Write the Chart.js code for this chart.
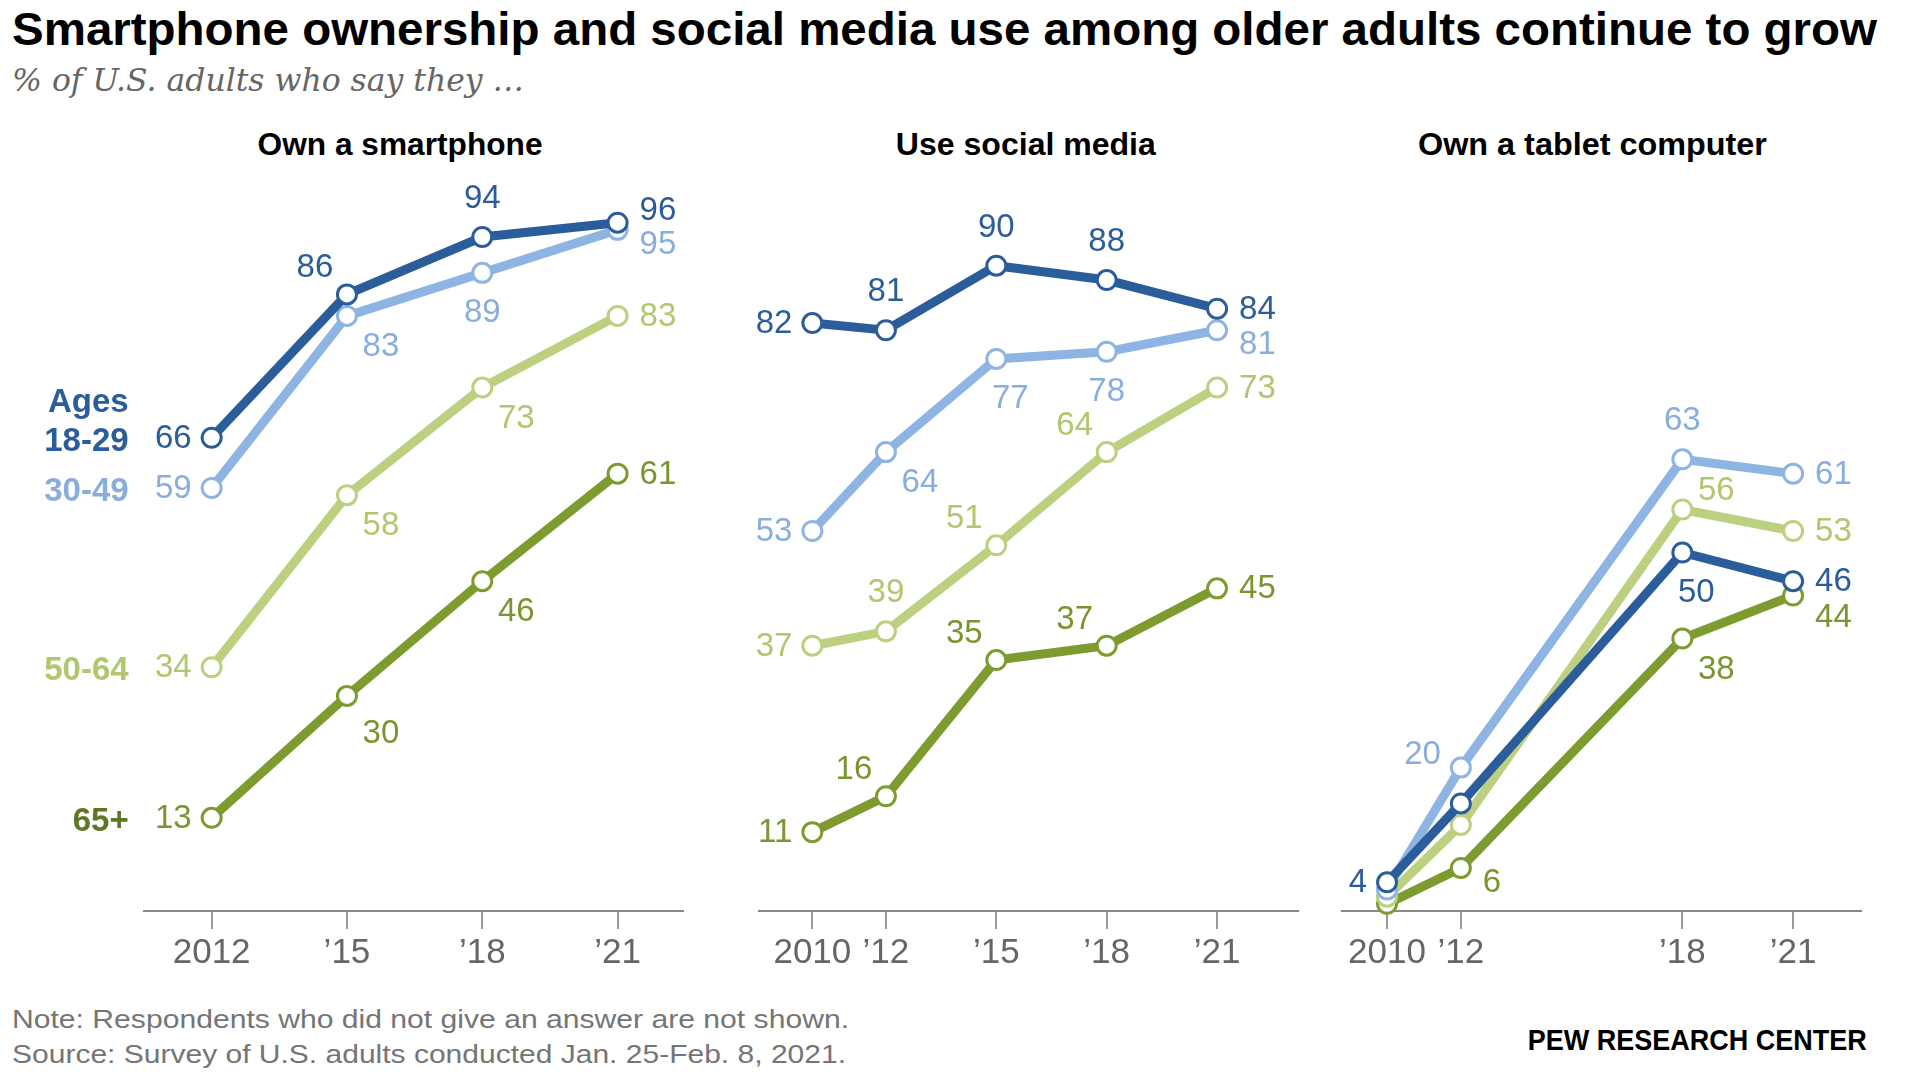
<!DOCTYPE html>
<html>
<head>
<meta charset="utf-8">
<script src="https://cdn.jsdelivr.net/npm/chart.js@4.4.1/dist/chart.umd.min.js"></script>
<style>
  html, body { margin:0; padding:0; background:#fff; }
  body { width:1920px; height:1080px; position:relative; overflow:hidden; font-family:"Liberation Sans", Arial, sans-serif; }
  .t { position:absolute; white-space:nowrap; line-height:1; display:inline-block; }
  canvas { position:absolute; }
</style>
</head>
<body>
<div class="t" id="title" style="left:12px; top:6px; font-size:46px; font-weight:bold; color:#000;">Smartphone ownership and social media use among older adults continue to grow</div>
<div class="t" id="subtitle" style="left:12px; top:65px; font-size:31px; font-style:italic; font-family:'DejaVu Serif', Georgia, serif; color:#666;">% of U.S. adults who say they …</div>
<div class="t" id="p1t" style="top:128px; font-size:32px; font-weight:bold; color:#000;">Own a smartphone</div>
<div class="t" id="p2t" style="top:128px; font-size:32px; font-weight:bold; color:#000;">Use social media</div>
<div class="t" id="p3t" style="top:128px; font-size:32px; font-weight:bold; color:#000;">Own a tablet computer</div>
<div class="t" id="note" style="left:12px; top:1007px; font-size:25px; color:#757575;">Note: Respondents who did not give an answer are not shown.</div>
<div class="t" id="source" style="left:12px; top:1042px; font-size:25px; color:#757575;">Source: Survey of U.S. adults conducted Jan. 25-Feb. 8, 2021.</div>
<div class="t" id="pew" style="top:1025px; font-size:30px; font-weight:bold; color:#000;">PEW RESEARCH CENTER</div>

<canvas id="c1" width="720" height="811" style="left:0px; top:170px;"></canvas>
<canvas id="c2" width="600" height="811" style="left:720px; top:170px;"></canvas>
<canvas id="c3" width="600" height="811" style="left:1320px; top:170px;"></canvas>

<script>
// ---------- DATA ----------
const ageGroups = ['18-29', '30-49', '50-64', '65+'];

const smartphoneYears = [2012, 2015, 2018, 2021];
const smartphone1829 = [66, 86, 94, 96];
const smartphone3049 = [59, 83, 89, 95];
const smartphone5064 = [34, 58, 73, 83];
const smartphone65   = [13, 30, 46, 61];

const socialYears = [2010, 2012, 2015, 2018, 2021];
const social1829 = [82, 81, 90, 88, 84];
const social3049 = [53, 64, 77, 78, 81];
const social5064 = [37, 39, 51, 64, 73];
const social65   = [11, 16, 35, 37, 45];

const tabletYears = [2010, 2012, 2018, 2021];
const tablet1829 = [4, 15, 50, 46];
const tablet3049 = [3, 20, 63, 61];
const tablet5064 = [2, 12, 56, 53];
const tablet65   = [1, 6, 38, 44];

// ---------- STYLE ----------
const lineColors  = ['#2b5d9a', '#8db4e2', '#bdd07f', '#7d9b2f'];
const labelColors = ['#2b5d9a', '#8aaedb', '#b2c66f', '#7a9530'];
const groupLabelColors = ['#2b5d9a', '#8aaedb', '#b2c66f', '#5f7626'];

// label placement codes (positions, kept apart from values; 'n' = no label)
const place1 = [['l','al','a','ra'], ['l','br','b','rb'], ['l','br','br','r'], ['l','br2','br','r']];
const place2 = [['l','a','a','a','r'], ['l','br','bb','b','rb'], ['l','a','al','al','r'], ['l','al','al','al','r']];
const place3 = [['l','n','bb','r'], ['n','la','a','r'], ['n','n','ar','r'], ['n','rb','br','rbb']];

const OFF = {
  l:   [-20, 0, 'right'],
  r:   [22, 0, 'left'],
  ra:  [22, -13, 'left'],
  rb:  [22, 14, 'left'],
  rbb: [22, 21, 'left'],
  la:  [-20, -14, 'right'],
  a:   [0, -39, 'center'],
  b:   [0, 39, 'center'],
  al:  [-32, -27, 'center'],
  ar:  [34, -20, 'center'],
  br:  [34, 30, 'center'],
  br2: [34, 37, 'center'],
  bb:  [14, 39, 'center']
};

const FONT = '"Liberation Sans", Arial, sans-serif';

function mkDatasets(years, series) {
  return series.map((vals, i) => ({
    label: ageGroups[i],
    data: years.map((y, j) => ({ x: y, y: vals[j] })),
    borderColor: lineColors[i],
    borderWidth: 9,
    pointRadius: 9.5,
    pointHoverRadius: 9.5,
    pointBorderWidth: 3,
    pointBackgroundColor: '#fff',
    pointBorderColor: lineColors[i],
    tension: 0,
    clip: false,
    order: i
  }));
}

function labelPlugin(placements, showGroups) {
  return {
    id: 'labels',
    afterDatasetsDraw(chart) {
      const ctx = chart.ctx;
      const xs = chart.scales.x, ys = chart.scales.y;
      ctx.save();
      ctx.textBaseline = 'middle';
      chart.data.datasets.forEach((ds, i) => {
        ds.data.forEach((pt, j) => {
          const code = placements[i][j];
          if (code === 'n') return;
          const o = OFF[code];
          const px = xs.getPixelForValue(pt.x), py = ys.getPixelForValue(pt.y);
          ctx.font = '33px ' + FONT;
          ctx.fillStyle = labelColors[i];
          ctx.textAlign = o[2];
          ctx.fillText(String(pt.y), px + o[0], py + o[1] + 1);
        });
        if (showGroups) {
          const p0 = ds.data[0];
          const px = xs.getPixelForValue(p0.x) - 83;
          const py = ys.getPixelForValue(p0.y) + 4;
          ctx.font = 'bold 33px ' + FONT;
          ctx.fillStyle = groupLabelColors[i];
          ctx.textAlign = 'right';
          ctx.fillText(ds.label, px, py);
          if (i === 0) ctx.fillText('Ages', px, py - 39);
        }
      });
      ctx.restore();
    }
  };
}

function mkChart(id, years, series, xmin, xmax, pad, placements, showGroups) {
  return new Chart(document.getElementById(id), {
    type: 'line',
    data: { datasets: mkDatasets(years, series) },
    options: {
      responsive: false,
      animation: false,
      devicePixelRatio: 1,
      layout: { padding: { left: pad[0], right: pad[1], top: 24, bottom: 0 } },
      plugins: { legend: { display: false }, tooltip: { enabled: false } },
      scales: {
        x: {
          type: 'linear',
          min: xmin, max: xmax,
          afterBuildTicks: (s) => { s.ticks = years.map(v => ({ value: v })); },
          afterFit: (s) => { s.height = 70; },
          ticks: {
            autoSkip: false,
            maxRotation: 0,
            padding: 3,
            color: '#666',
            font: { family: FONT, size: 35 },
            callback: (v, i) => i === 0 ? String(v) : '\u2019' + String(v).slice(2)
          },
          grid: { drawOnChartArea: false, drawTicks: true, tickLength: 18, color: '#999', lineWidth: 2 },
          border: { display: true, color: '#888', width: 2 }
        },
        y: { display: false, min: 0, max: 100 }
      }
    },
    plugins: [labelPlugin(placements, showGroups)]
  });
}

mkChart('c1', smartphoneYears, [smartphone1829, smartphone3049, smartphone5064, smartphone65], 2010.5, 2022.45, [144, 37], place1, true);
mkChart('c2', socialYears, [social1829, social3049, social5064, social65], 2008.55, 2023.2, [39, 22], place2, false);
mkChart('c3', tabletYears, [tablet1829, tablet3049, tablet5064, tablet65], 2008.78, 2022.84, [22, 59], place3, false);

// ---------- text fitting ----------
function fit(id, width, anchor, x) {
  const el = document.getElementById(id);
  const w = el.getBoundingClientRect().width;
  const s = width / w;
  if (anchor === 'left') {
    el.style.transformOrigin = 'left top';
  } else if (anchor === 'center') {
    el.style.left = (x - w / 2) + 'px';
    el.style.transformOrigin = 'center top';
  } else {
    el.style.left = (x - w) + 'px';
    el.style.transformOrigin = 'right top';
  }
  el.style.transform = 'scaleX(' + s + ')';
}
fit('title', 1865, 'left');
fit('subtitle', 512, 'left');
fit('p1t', 285, 'center', 400);
fit('p2t', 260, 'center', 1026);
fit('p3t', 349, 'center', 1592);
fit('note', 837, 'left');
fit('source', 834, 'left');
fit('pew', 339, 'right', 1867);
</script>
</body>
</html>
